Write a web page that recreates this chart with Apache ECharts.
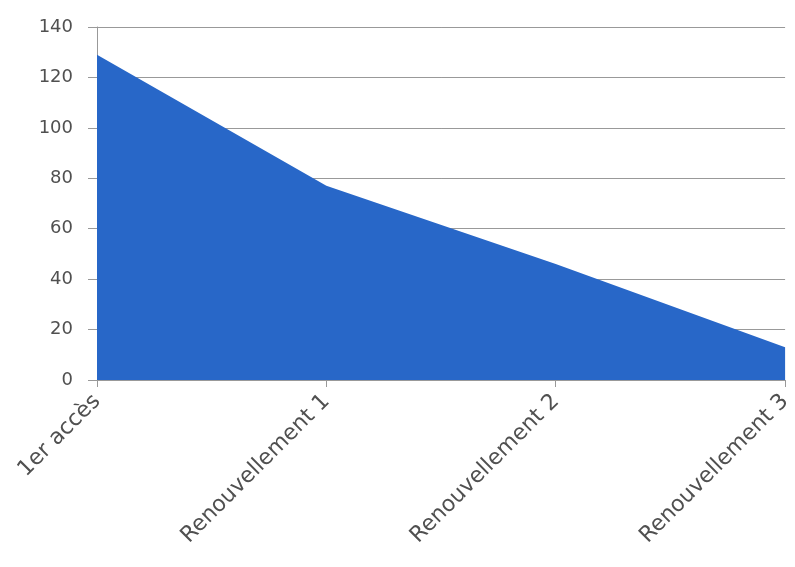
<!DOCTYPE html>
<html><head><meta charset="utf-8">
<script src="https://cdn.jsdelivr.net/npm/echarts@6/dist/echarts.min.js"></script>
<style>html,body{margin:0;padding:0;background:#fff}#c{width:795px;height:567px}</style>
</head><body><div id="c"></div>
<script>
const categories = ["1er accès", "Renouvellement 1", "Renouvellement 2", "Renouvellement 3"];
const values = [129, 77, 46, 13];
const yTicks = [0, 20, 40, 60, 80, 100, 120, 140];

const chart = echarts.init(document.getElementById('c'));
chart.setOption({
  animation: false,
  grid: {left: 97, right: 6, top: 27, bottom: 187, containLabel: false},
  xAxis: {
    type: 'category', data: categories, boundaryGap: false,
    axisLine: {show: true, lineStyle: {color: '#999', width: 1}},
    axisTick: {show: true, alignWithLabel: true, length: 7, lineStyle: {color: '#999'}},
    axisLabel: {rotate: 45, color: '#505050', fontSize: 22, fontFamily: 'DejaVu Sans', margin: 18, interval: 0}
  },
  yAxis: {
    type: 'value', min: 0, max: 140, interval: 20,
    axisLine: {show: true, lineStyle: {color: '#999', width: 1}},
    axisTick: {show: true, length: 9, lineStyle: {color: '#999'}},
    axisLabel: {color: '#505050', fontSize: 18, fontFamily: 'DejaVu Sans', margin: 24,
      formatter: v => yTicks.includes(v) ? String(v) : ''},
    splitLine: {show: true, lineStyle: {color: '#999', width: 1}}
  },
  series: [{
    type: 'line', data: values, symbol: 'none',
    lineStyle: {width: 0},
    areaStyle: {color: '#2867c8', opacity: 1}
  }]
});
</script></body></html>
